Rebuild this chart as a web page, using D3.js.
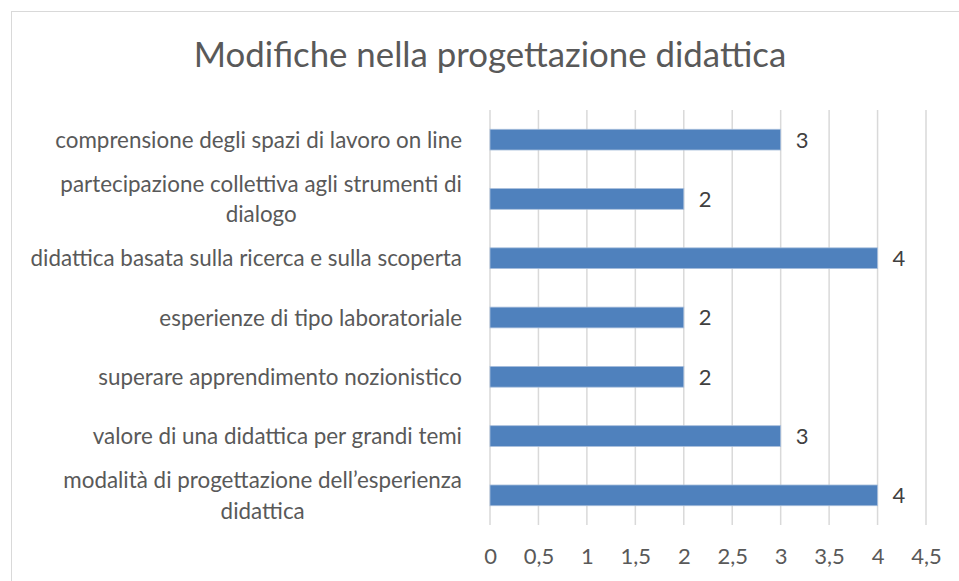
<!DOCTYPE html>
<html>
<head>
<meta charset="utf-8">
<script src="https://cdn.jsdelivr.net/npm/d3@7"></script>
<style>
  body { margin: 0; background: #fff; }
  svg { font-family: Lato, "Noto Sans", sans-serif; }
</style>
</head>
<body>
<div id="chart"></div>
<script>
const categories = [
    ["comprensione degli spazi di lavoro on line"],
    ["partecipazione collettiva agli strumenti di", "dialogo"],
    ["didattica basata sulla ricerca e sulla scoperta"],
    ["esperienze di tipo laboratoriale"],
    ["superare apprendimento nozionistico"],
    ["valore di una didattica per grandi temi"],
    ["modalità di progettazione dell\u2019esperienza", "didattica"]
]
const values = [3, 2, 4, 2, 2, 3, 4]
const xTicks = [0, 0.5, 1, 1.5, 2, 2.5, 3, 3.5, 4, 4.5]
const title = "Modifiche nella progettazione didattica"

const W = 959, H = 581
const margin = {top: 110, right: 33, bottom: 56, left: 490}
const width = W - margin.left - margin.right
const height = H - margin.top - margin.bottom

const svg = d3.select("#chart").append("svg")
    .attr("width", W)
    .attr("height", H)

// chart frame
svg.append("rect")
    .attr("x", 11.5).attr("y", 11.5)
    .attr("width", W).attr("height", H)
    .attr("fill", "none")
    .attr("stroke", "#d9d9d9")
    .attr("stroke-width", 1)

svg.append("text")
    .attr("x", 490)
    .attr("y", 67)
    .attr("text-anchor", "middle")
    .attr("fill", "#595959")
    .style("font-size", "34.8px")
    .text(title)

const g = svg.append("g")
    .attr("transform", "translate(" + margin.left + "," + margin.top + ")")

const x = d3.scaleLinear()
    .domain([0, 4.5])
    .range([0, width])

const y = d3.scaleBand()
    .domain(d3.range(values.length))
    .range([0, height])
    .paddingInner(0.65)
    .paddingOuter(0.325)

// vertical gridlines
g.selectAll(".grid")
    .data(xTicks)
    .join("line")
    .attr("x1", d => x(d)).attr("x2", d => x(d))
    .attr("y1", 0).attr("y2", height)
    .attr("stroke", "#d9d9d9")
    .attr("stroke-width", 1.5)

// x axis labels
const fmt = d => String(d).replace(".", ",")
const xAxis = g.append("g")
    .attr("transform", "translate(0," + height + ")")
    .call(d3.axisBottom(x).tickValues(xTicks).tickFormat(fmt).tickSize(0).tickPadding(23))
xAxis.select(".domain").remove()
xAxis.selectAll("text")
    .attr("fill", "#595959")
    .style("font-size", "22px")
    .style("font-family", "Lato, 'Noto Sans', sans-serif")

// bars
g.selectAll(".bar")
    .data(values)
    .join("rect")
    .attr("x", x(0))
    .attr("y", (d, i) => y(i))
    .attr("width", d => x(d) - x(0))
    .attr("height", y.bandwidth())
    .attr("fill", "#4f81bd")
    .attr("stroke", "#a9bfdc")
    .attr("stroke-width", 0.8)

// value labels
g.selectAll(".val")
    .data(values)
    .join("text")
    .attr("x", d => x(d) + 15)
    .attr("y", (d, i) => y(i) + y.bandwidth() / 2)
    .attr("dy", "0.36em")
    .attr("fill", "#404040")
    .style("font-size", "22px")
    .text(d => d)

// category labels (wrapped lines centred in a right-aligned block)
const labelRight = -28
const lineH = 31
const labels = g.selectAll(".cat")
    .data(categories)
    .join("g")
    .attr("transform", (d, i) => "translate(0," + (y(i) + y.bandwidth() / 2) + ")")

labels.each(function (lines) {
    const grp = d3.select(this)
    const texts = grp.selectAll("text")
        .data(lines)
        .join("text")
        .attr("y", (d, j) => (j - (lines.length - 1) / 2) * lineH)
        .attr("dy", "0.36em")
        .attr("fill", "#595959")
        .style("font-size", "22.4px")
        .text(d => d)
    const widths = texts.nodes().map(n => n.getComputedTextLength())
    const blockW = d3.max(widths)
    texts.attr("text-anchor", "middle")
        .attr("x", labelRight - blockW / 2)
})
</script>
</body>
</html>
